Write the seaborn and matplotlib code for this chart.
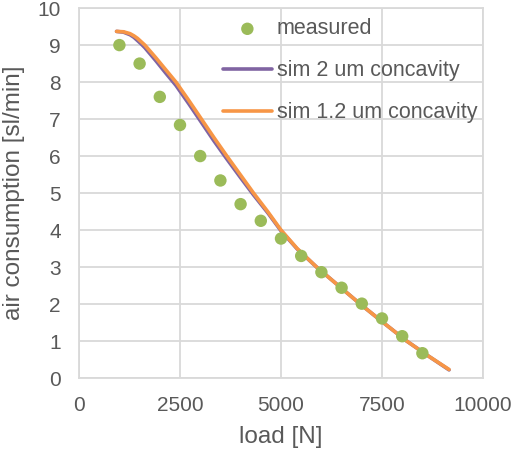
import pandas as pd
import seaborn as sns
import matplotlib.pyplot as plt

# measured points
load_meas = [1000, 1500, 2000, 2500, 3000, 3500, 4000, 4500,
             5000, 5500, 6000, 6500, 7000, 7500, 8000, 8500]
air_meas = [9.0, 8.5, 7.6, 6.84, 6.0, 5.34, 4.7, 4.25,
            3.77, 3.3, 2.86, 2.44, 2.01, 1.61, 1.13, 0.67]

# simulation curves
load_sim = [930, 1100, 1262, 1360, 1450, 1540, 1630, 1900, 2150, 2400, 2720, 3030, 3340,
            3660, 3990, 4320, 4670, 5000, 5400, 5880, 6420, 6960, 7530, 8110, 8640, 9160]
air_sim_2um = [9.37, 9.35, 9.28, 9.21, 9.12, 9.03, 8.93, 8.58, 8.24, 7.91, 7.41, 6.91, 6.41,
               5.92, 5.43, 4.95, 4.47, 3.98, 3.49, 3.0, 2.5, 2.0, 1.5, 1.0, 0.6, 0.22]
air_sim_12um = [9.37, 9.36, 9.31, 9.25, 9.18, 9.09, 9.0, 8.66, 8.33, 8.0, 7.5, 7.0, 6.5,
                6.0, 5.5, 5.0, 4.5, 4.0, 3.5, 3.0, 2.5, 2.0, 1.5, 1.0, 0.6, 0.23]

meas_df = pd.DataFrame({"load": load_meas, "air": air_meas})
sim_df = pd.DataFrame({"load": load_sim, "s2": air_sim_2um, "s12": air_sim_12um})

sns.set_style("white")
plt.rcParams['font.family'] = ['Liberation Sans', 'DejaVu Sans']

grey = "#595959"
fig = plt.figure(figsize=(5.13, 4.5), dpi=100)
ax = fig.add_axes([0.154, 0.16, 0.7875, 0.822])

sns.lineplot(data=sim_df, x="load", y="s2", ax=ax, color="#8064A2", linewidth=2.6,
             sort=False, estimator=None, label="sim 2 um concavity", zorder=2)
sns.lineplot(data=sim_df, x="load", y="s12", ax=ax, color="#F79646", linewidth=2.6,
             sort=False, estimator=None, label="sim 1.2 um concavity", zorder=3)
sns.scatterplot(data=meas_df, x="load", y="air", ax=ax, color="#9BBB59", s=80,
                edgecolor="none", label="measured", zorder=4)

ax.set_xlim(0, 10000)
ax.set_ylim(0, 10)
ax.set_xticks([0, 2500, 5000, 7500, 10000])
ax.set_yticks(range(0, 11))
ax.grid(True, color="#D9D9D9", linewidth=1.3)
ax.set_axisbelow(True)
for s in ax.spines.values():
    s.set_color("#D9D9D9")
    s.set_linewidth(1.3)
ax.tick_params(axis="both", length=0, labelsize=15, colors=grey)
ax.tick_params(axis="y", pad=13)
ax.tick_params(axis="x", pad=13)

ax.set_xlabel("load [N]", fontsize=17.5, color=grey, labelpad=8)
ax.set_ylabel("air consumption [sl/min]", fontsize=17.5, color=grey, labelpad=9)

handles, labels = ax.get_legend_handles_labels()
order = [2, 0, 1]
ax.legend([handles[i] for i in order], [labels[i] for i in order],
          loc="upper left", bbox_to_anchor=(0.356, 0.972), frameon=False,
          fontsize=15.5, labelcolor=grey, handlelength=2.28, handletextpad=0.23,
          labelspacing=0.97, borderpad=0, borderaxespad=0)

plt.savefig("out.png", dpi=100)
